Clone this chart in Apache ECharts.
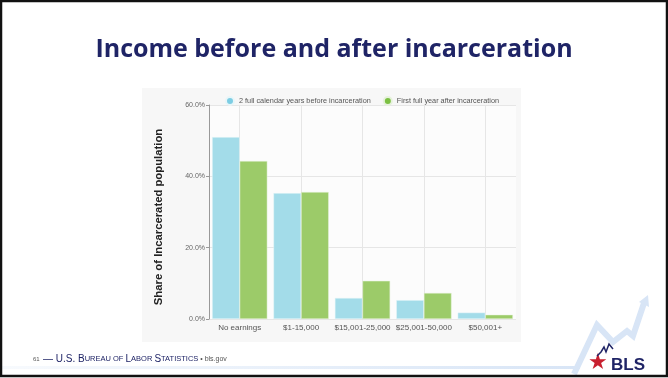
<!DOCTYPE html>
<html><head><meta charset="utf-8">
<script src="https://cdn.jsdelivr.net/npm/echarts@6/dist/echarts.min.js"></script>
<style>html,body{margin:0;padding:0;background:#fff}#c{width:668px;height:378px}</style>
</head><body><div id="c"></div>
<script>
const categories = ['No earnings', '$1-15,000', '$15,001-25,000', '$25,001-50,000', '$50,001+'];
const seriesNames = ['2 full calendar years before incarceration', 'First full year after incarceration'];
const before = [51.0, 35.3, 5.9, 5.3, 1.8];
const after = [44.3, 35.6, 10.7, 7.3, 1.2];
const yTicks = [0, 20, 40, 60];

const chart = echarts.init(document.getElementById('c'), null, {renderer: 'canvas'});
chart.setOption({
  animation: false,
  backgroundColor: '#fff',
  title: {
    text: 'Income before and after incarceration',
    left: 'center', top: 32,
    textStyle: {fontFamily: 'Open Sans', fontWeight: 'bold', fontSize: 25, color: '#1f2466'}
  },
  legend: {
    top: 91, left: 220, itemGap: 12,
    icon: 'circle', itemWidth: 8, itemHeight: 8,
    textStyle: {fontSize: 7.3, color: '#555', fontFamily: 'Liberation Sans'},
    data: [{name: seriesNames[0], itemStyle: {color: '#7dcde3'}}, {name: seriesNames[1], itemStyle: {color: '#7cc043'}}]
  },
  grid: {left: 209, right: 152, top: 105, bottom: 59},
  xAxis: {
    type: 'category', data: categories,
    axisLine: {show: false}, axisTick: {show: false},
    axisLabel: {interval: 0, fontSize: 8, color: '#555', fontFamily: 'Liberation Sans', margin: 5},
    splitLine: {show: true, interval: 0, alignWithLabel: true, lineStyle: {color: '#e6e6e6'}}
  },
  yAxis: {
    type: 'value', min: 0, max: 60, interval: 20,
    name: 'Share of Incarcerated population', nameLocation: 'middle', nameGap: 45,
    nameTextStyle: {fontSize: 11.3, fontWeight: 'bold', color: '#222', fontFamily: 'Liberation Sans', padding: [0, 10, 0, 0]},
    axisLine: {show: true, lineStyle: {color: '#999'}},
    axisTick: {show: true, length: 3, lineStyle: {color: '#999'}},
    axisLabel: {fontSize: 7, color: '#666', fontFamily: 'Liberation Sans', margin: 4,
      formatter: v => yTicks.includes(v) ? v.toFixed(1) + '%' : ''},
    splitLine: {lineStyle: {color: '#e6e6e6'}}
  },
  series: [
    {name: seriesNames[0], type: 'bar', data: before, barGap: '0%', barCategoryGap: '10%',
     itemStyle: {color: '#a3dce9', borderColor: '#e8f6f9', borderWidth: 0.5}},
    {name: seriesNames[1], type: 'bar', data: after,
     itemStyle: {color: '#9ccb69', borderColor: '#e6f2dc', borderWidth: 0.5}}
  ],
  graphic: [
    {type: 'rect', z: -10, shape: {x: 142, y: 88, width: 379, height: 254}, style: {fill: '#f7f7f7'}},
    {type: 'rect', z: -9, shape: {x: 209, y: 105, width: 307, height: 214}, style: {fill: '#fcfcfc'}},
    {type: 'rect', z: 100, shape: {x: 1, y: 1, width: 666, height: 375}, style: {fill: 'none', stroke: '#111', lineWidth: 2.5}},
    {type: 'polyline', z: -5, shape: {points: [[574, 374], [597, 325], [613, 342], [627, 331], [633, 336], [644, 303]]},
     style: {stroke: '#d8e5f6', lineWidth: 6, fill: 'none'}},
    {type: 'polygon', z: -5, shape: {points: [[639, 302], [648, 295], [649, 307]]}, style: {fill: '#d8e5f6'}},
    {type: 'rect', z: -6, shape: {x: 0, y: 366, width: 580, height: 3}, style: {fill: new echarts.graphic.LinearGradient(0,0,1,0,[{offset:0,color:'rgba(216,229,246,0.2)'},{offset:1,color:'#d8e5f6'}])}},
    {type: 'text', z: 10, left: 588, top: 352, style: {text: '★', fontSize: 22, fill: '#c8202f'}},
    {type: 'text', z: 10, left: 611, top: 357, style: {text: 'BLS', fontSize: 17, fontWeight: 'bold', fill: '#1f2466', fontFamily: 'Liberation Sans'}},
    {type: 'polyline', z: 11, shape: {points: [[597, 356], [601, 352], [604, 347], [606, 352], [609, 344], [613, 349]]},
     style: {stroke: '#1f2466', lineWidth: 1.5, fill: 'none'}},
    {type: 'text', left: 33, top: 353, style: {
      rich: {
        n: {fontSize: 6, fill: '#555', fontFamily: 'Liberation Sans'},
        b: {fontSize: 10, fill: '#1f2466', fontFamily: 'Liberation Sans'},
        s: {fontSize: 7.5, fill: '#1f2466', fontFamily: 'Liberation Sans'},
        g: {fontSize: 7, fill: '#555', fontFamily: 'Liberation Sans'}
      },
      text: '{n|61} {b|— U.S. B}{s|UREAU OF }{b|L}{s|ABOR }{b|S}{s|TATISTICS}{g| • bls.gov}'
    }}
  ]
});
</script></body></html>
